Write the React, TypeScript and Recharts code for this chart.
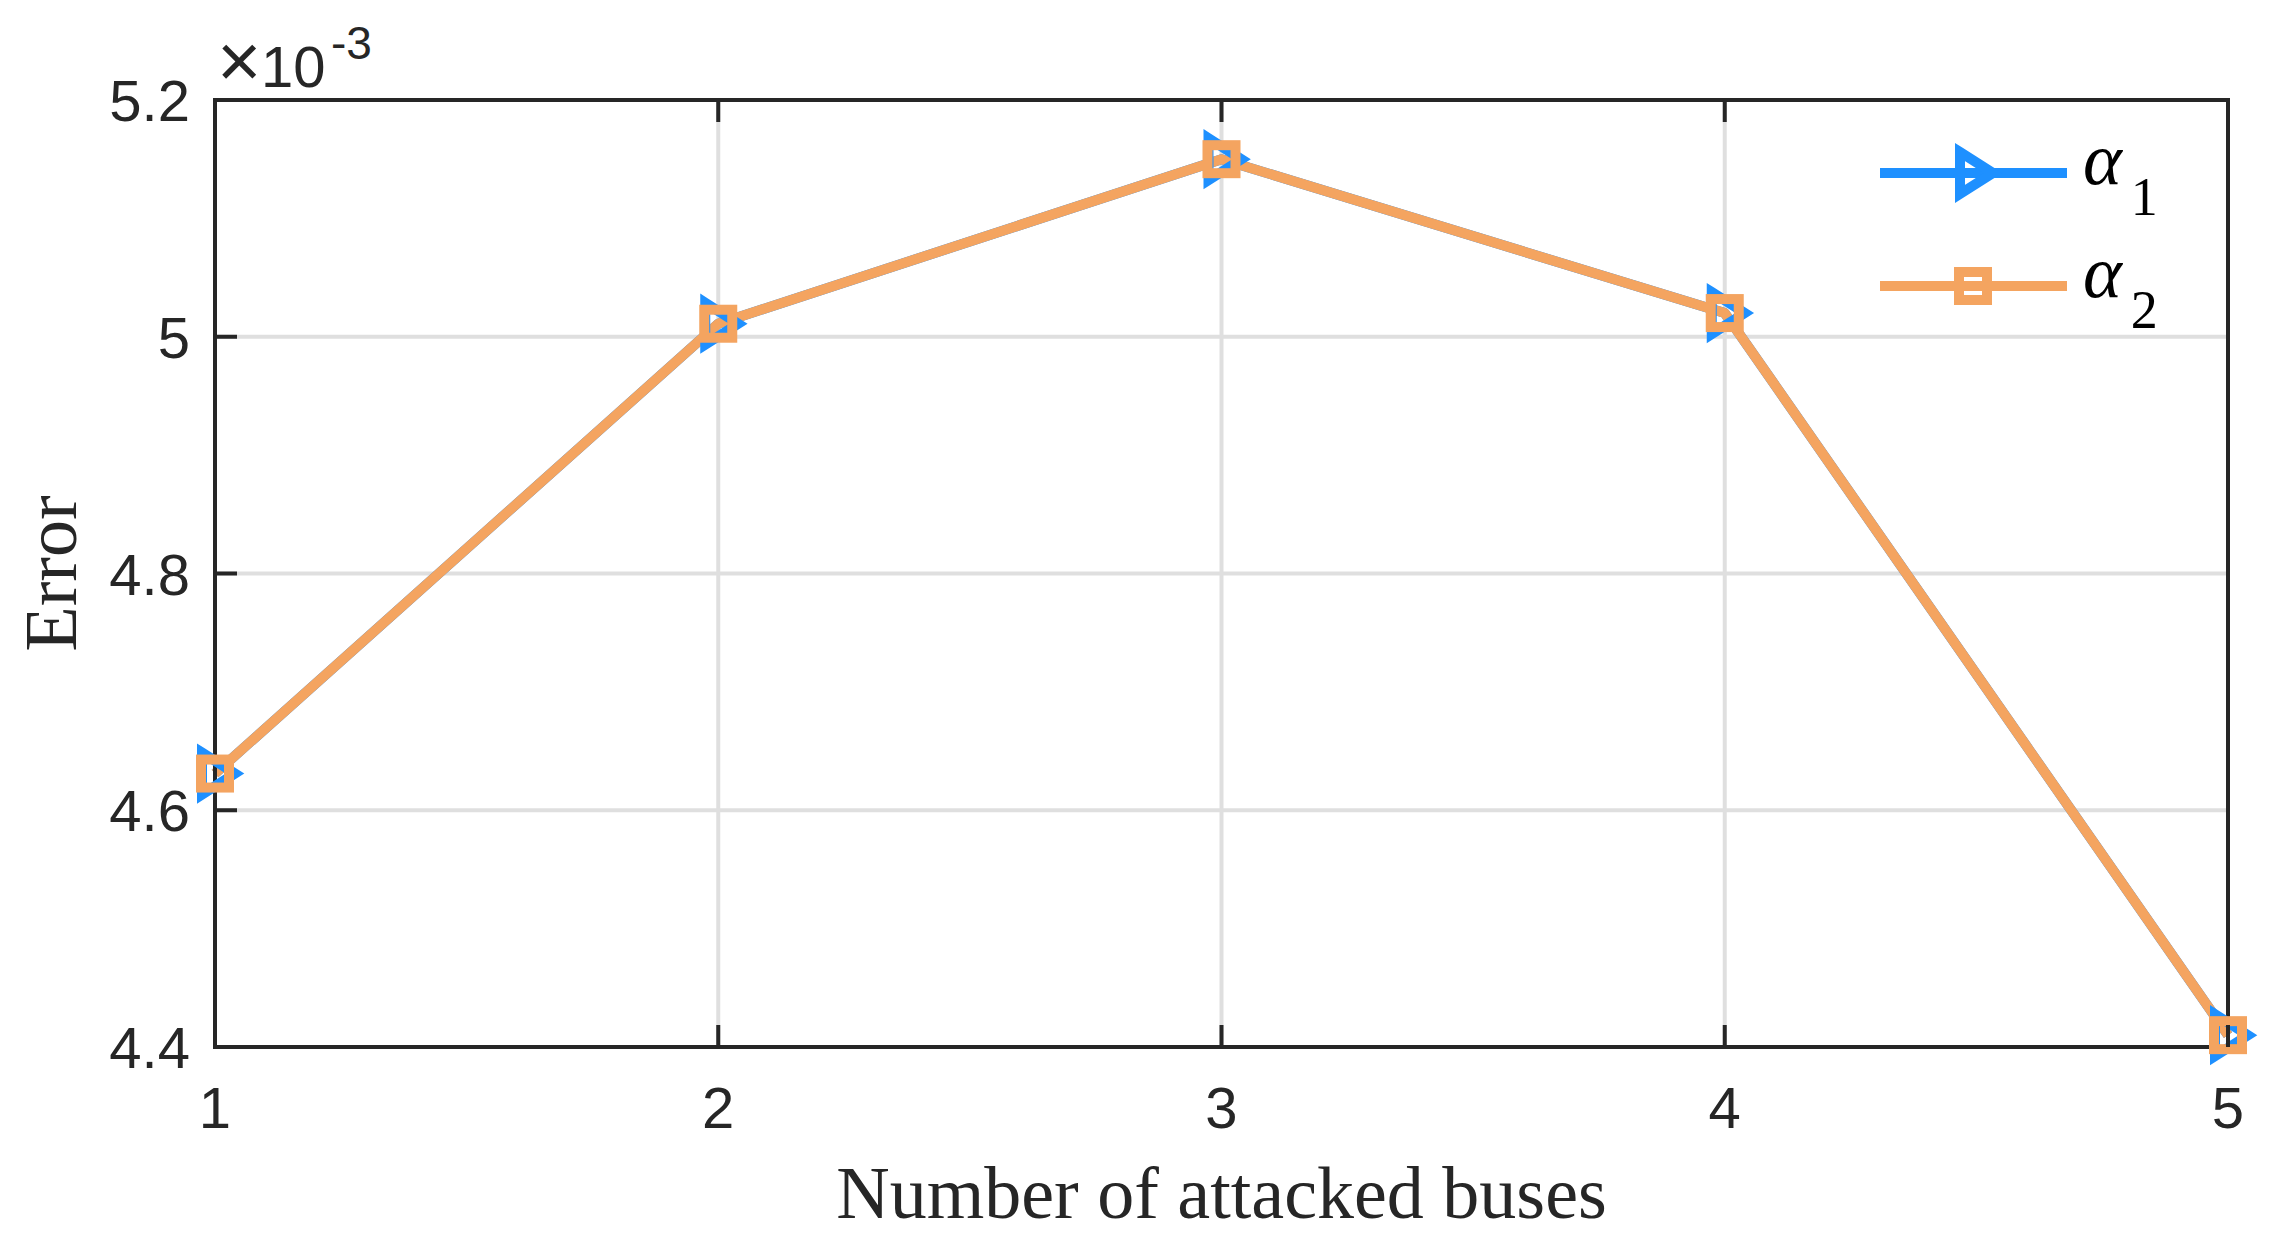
import { LineChart, Line, XAxis, YAxis, CartesianGrid, Legend, Label } from "recharts";

// values are in units of 1e-3 (the axis shows the x10^-3 multiplier)
const attackedBuses = [1, 2, 3, 4, 5];
const alpha1Error = [4.631, 5.011, 5.15, 5.02, 4.41];
const alpha2Error = [4.631, 5.011, 5.15, 5.02, 4.41];
const xTicks = [1, 2, 3, 4, 5];
const yTicks = [4.4, 4.6, 4.8, 5.0, 5.2];
const seriesNames = ["α1", "α2"];

const data = attackedBuses.map((n, i) => ({ n, a1: alpha1Error[i], a2: alpha2Error[i] }));

const BLUE = "#1E90FF";
const ORANGE = "#F4A460";
const AXIS = "#262626";
const GRID = "#DFDFDF";
const SANS = "'Liberation Sans', Arial, Helvetica, sans-serif";
const SERIF = "'Liberation Serif', 'Times New Roman', serif";
const TICK_LEN = 22;

const axisLine = { stroke: AXIS, strokeWidth: 4, strokeLinecap: "square" as const };
const fmt = (v: number) => (Number.isInteger(v) ? String(v) : v.toFixed(1));

const Triangle = ({ cx, cy }: { cx: number; cy: number }) => (
  <polygon
    points="-13,-21 20,0 -13,21"
    transform={`translate(${cx},${cy})`}
    fill="none"
    stroke={BLUE}
    strokeWidth={10}
    strokeLinejoin="miter"
  />
);

const Square = ({ cx, cy }: { cx: number; cy: number }) => (
  <rect x={cx - 14} y={cy - 14} width={28} height={28} fill="none" stroke={ORANGE} strokeWidth={10} />
);

const LeftTick = ({ x, y, payload }: any) => (
  <g>
    <line x1={x + 25} x2={x + 25 + TICK_LEN} y1={y} y2={y} stroke={AXIS} strokeWidth={4} />
    <text x={x} y={y} dy={21} textAnchor="end" fontSize={58} fontFamily={SANS} fill={AXIS}>
      {fmt(payload.value)}
    </text>
  </g>
);

const RightTick = ({ x, y }: any) => (
  <line x1={x - TICK_LEN} x2={x} y1={y} y2={y} stroke={AXIS} strokeWidth={4} />
);

const BottomTick = ({ x, y, payload }: any) => (
  <g>
    <line x1={x} x2={x} y1={y - TICK_LEN} y2={y} stroke={AXIS} strokeWidth={4} />
    <text x={x} y={y + 81} textAnchor="middle" fontSize={58} fontFamily={SANS} fill={AXIS}>
      {fmt(payload.value)}
    </text>
  </g>
);

const TopTick = ({ x, y }: any) => (
  <line x1={x} x2={x} y1={y} y2={y + TICK_LEN} stroke={AXIS} strokeWidth={4} />
);

const ErrorLabel = ({ viewBox }: any) => {
  const x = viewBox.x + 76;
  const y = viewBox.y + viewBox.height / 2;
  return (
    <text x={x} y={y} transform={`rotate(-90, ${x}, ${y})`} textAnchor="middle" fontSize={74} fontFamily={SERIF} fill={AXIS}>
      Error
    </text>
  );
};

const ExponentLabel = ({ viewBox }: any) => {
  const x = viewBox.x + viewBox.width;
  const y = viewBox.y - 13;
  return (
    <text x={x + 2} y={y} fontSize={58} fontFamily={SANS} fill={AXIS}>
      <tspan fontSize={76}>×</tspan>
      <tspan x={x + 46}>10</tspan>
      <tspan x={x + 116} dy={-28} fontSize={46}>-3</tspan>
    </text>
  );
};

const XLabel = ({ viewBox }: any) => (
  <text x={viewBox.x + viewBox.width / 2} y={viewBox.y + 171} textAnchor="middle" fontSize={74} fontFamily={SERIF} fill={AXIS}>
    Number of attacked buses
  </text>
);

const renderLegend = ({ payload }: any) => (
  <svg width={300} height={240}>
    {(payload || [])
      .filter((entry: any) => entry.dataKey === "a1" || entry.dataKey === "a2")
      .map((entry: any, i: number) => {
        const cy = 63 + i * 113;
        const name = String(entry.value);
        const Marker = entry.dataKey === "a1" ? Triangle : Square;
        return (
          <g key={name}>
            <line x1={10} x2={197} y1={cy} y2={cy} stroke={entry.color} strokeWidth={10} />
            <Marker cx={103} cy={cy} />
            <text x={213} y={cy + 11} fontSize={74} fontFamily={SERIF} fill="#000">
              <tspan fontStyle="italic">{name.slice(0, 1)}</tspan>
              <tspan dx={9} dy={31} fontSize={54}>{name.slice(1)}</tspan>
            </text>
          </g>
        );
      })}
  </svg>
);

export default function App() {
  return (
    <div style={{ position: "absolute", left: 0, top: 0, width: 2286, height: 1254, background: "#fff" }}>
      <LineChart width={2286} height={1254} data={data} margin={{ top: 99, right: 57, bottom: 0, left: 0 }}>
        <CartesianGrid stroke={GRID} strokeWidth={4} />
        <XAxis
          dataKey="n"
          type="number"
          domain={[1, 5]}
          ticks={xTicks}
          interval={0}
          height={207}
          tickSize={0}
          tickMargin={0}
          axisLine={axisLine}
          tick={BottomTick}
        >
          <Label content={XLabel} />
        </XAxis>
        <XAxis
          xAxisId="top"
          orientation="top"
          dataKey="n"
          type="number"
          domain={[1, 5]}
          ticks={xTicks}
          interval={0}
          height={1}
          tickSize={0}
          tickMargin={0}
          axisLine={axisLine}
          tick={TopTick}
        />
        <YAxis
          type="number"
          domain={[4.4, 5.2]}
          ticks={yTicks}
          interval={0}
          width={215}
          tickSize={0}
          tickMargin={25}
          axisLine={axisLine}
          tick={LeftTick}
        >
          <Label content={ErrorLabel} />
          <Label content={ExponentLabel} />
        </YAxis>
        <YAxis
          yAxisId="right"
          orientation="right"
          type="number"
          domain={[4.4, 5.2]}
          ticks={yTicks}
          interval={0}
          width={1}
          tickSize={0}
          tickMargin={0}
          axisLine={axisLine}
          tick={RightTick}
        />
        <Legend
          layout="vertical"
          align="center"
          verticalAlign="middle"
          wrapperStyle={{ left: 1870, top: 110, width: 300, height: 240 }}
          content={renderLegend}
        />
        <Line
          dataKey="a1"
          name={seriesNames[0]}
          stroke={BLUE}
          strokeWidth={10}
          strokeLinejoin="round"
          dot={(p: any) => <Triangle key={`t${p.index}`} cx={p.cx} cy={p.cy} />}
          activeDot={false}
          isAnimationActive={false}
        />
        <Line
          dataKey="a2"
          name={seriesNames[1]}
          stroke={ORANGE}
          strokeWidth={10}
          strokeLinejoin="round"
          dot={(p: any) => <Square key={`s${p.index}`} cx={p.cx} cy={p.cy} />}
          activeDot={false}
          isAnimationActive={false}
        />
      </LineChart>
    </div>
  );
}
